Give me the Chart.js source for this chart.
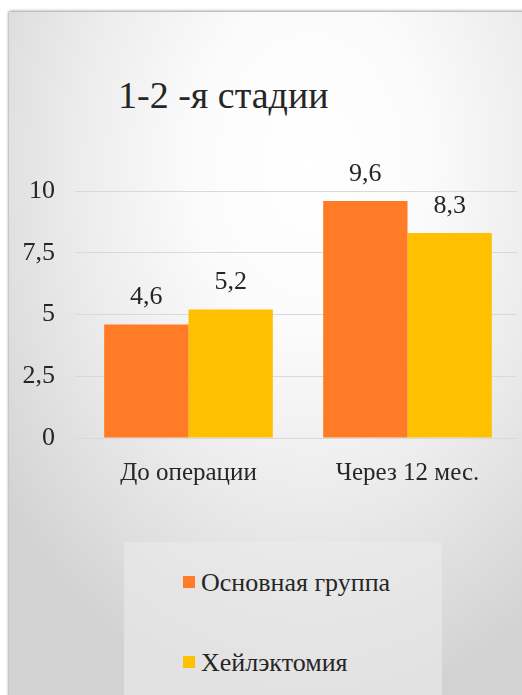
<!DOCTYPE html>
<html>
<head>
<meta charset="utf-8">
<script src="https://cdn.jsdelivr.net/npm/chart.js@4.4.0/dist/chart.umd.min.js"></script>
<style>
    html, body { margin: 0; padding: 0; background: #fff; }
    #wrap { position: relative; width: 522px; height: 695px; overflow: hidden; font-family: "Liberation Serif", "Times New Roman", serif; color: #262626; }
    #panel {
        position: absolute; left: 9px; top: 12px; width: 520px; height: 690px;
        background: radial-gradient(ellipse 75% 80% at 58% 22%, #ffffff 0%, #fbfbfb 30%, #ececec 60%, #dcdcdc 85%, #d2d2d2 100%);
        box-shadow: 0 -1px 3px rgba(0,0,0,0.35), -1px 0 2px rgba(0,0,0,0.15);
    }
    #title { position: absolute; left: 118px; top: 76px; font-size: 38px; line-height: 38px; white-space: nowrap; }
    #legendBox { position: absolute; left: 124px; top: 542px; width: 318px; height: 160px; background: rgba(235,235,235,0.6); }
    .lg-item { position: absolute; left: 59px; font-size: 26px; line-height: 26px; white-space: nowrap; }
    .lg-item i { display: inline-block; width: 12px; height: 12px; margin-right: 6px; vertical-align: 3px; }
    canvas { position: absolute; left: 0; top: 0; }
</style>
</head>
<body>
<div id="wrap">
    <div id="panel"></div>
    <div id="title">1-2 -я стадии</div>
    <div id="legendBox"></div>
    <canvas id="chart" width="522" height="695"></canvas>
</div>
<script>
const categories = ["До операции", "Через 12 мес."];
const mainGroup = [4.6, 9.6];
const cheilectomy = [5.2, 8.3];
const seriesNames = ["Основная группа", "Хейлэктомия"];
const seriesColors = ["#ff7b26", "#ffc000"];
const yTicks = [0, 2.5, 5, 7.5, 10];

const FONT = '"Liberation Serif", "Times New Roman", serif';
const fmt = v => String(v).replace('.', ',');

// подписи значений над столбцами
const valueLabels = {
    id: 'valueLabels',
    afterDatasetsDraw(chart) {
        const ctx = chart.ctx;
        ctx.save();
        ctx.font = '26px ' + FONT;
        ctx.fillStyle = '#262626';
        ctx.textAlign = 'center';
        ctx.textBaseline = 'middle';
        chart.data.datasets.forEach((ds, i) => {
            chart.getDatasetMeta(i).data.forEach((bar, j) => {
                ctx.fillText(fmt(ds.data[j]), bar.x, bar.y - 27);
            });
        });
        ctx.restore();
    }
};

// легенда в html, столбиком
const htmlLegend = {
    id: 'htmlLegend',
    afterUpdate(chart) {
        const box = document.getElementById('legendBox');
        box.innerHTML = '';
        chart.data.datasets.forEach((ds, i) => {
            const el = document.createElement('div');
            el.className = 'lg-item';
            el.style.top = (i === 0 ? 28 : 108) + 'px';
            el.innerHTML = `<i style="background:${ds.backgroundColor}"></i>${ds.label}`;
            box.appendChild(el);
        });
    }
};

function draw() {
    new Chart(document.getElementById('chart'), {
        type: 'bar',
        data: {
            labels: categories,
            datasets: [
                { label: seriesNames[0], data: mainGroup, backgroundColor: seriesColors[0] },
                { label: seriesNames[1], data: cheilectomy, backgroundColor: seriesColors[1] }
            ]
        },
        options: {
            responsive: false,
            animation: false,
            events: [],
            layout: { padding: { top: 191, right: 5, left: 0, bottom: 0 } },
            datasets: { bar: { categoryPercentage: 0.77, barPercentage: 1.0 } },
            plugins: { legend: { display: false }, title: { display: false }, tooltip: { enabled: false } },
            scales: {
                x: {
                    grid: { display: false },
                    border: { display: false },
                    ticks: { color: '#262626', font: { family: FONT, size: 25 }, padding: 12 },
                    afterFit: s => { s.height = 257; }
                },
                y: {
                    min: 0, max: 10,
                    afterBuildTicks: s => { s.ticks = yTicks.map(v => ({ value: v })); },
                    grid: { color: '#d9d9d9', tickLength: 4, tickColor: '#d9d9d9' },
                    border: { display: false },
                    ticks: { color: '#262626', font: { family: FONT, size: 26 }, padding: 20, callback: v => fmt(v) },
                    afterFit: s => { s.width = 79; }
                }
            }
        },
        plugins: [valueLabels, htmlLegend]
    });
}

document.fonts.load('26px "Liberation Serif"', 'До 0123').then(draw, draw);
</script>
</body>
</html>
